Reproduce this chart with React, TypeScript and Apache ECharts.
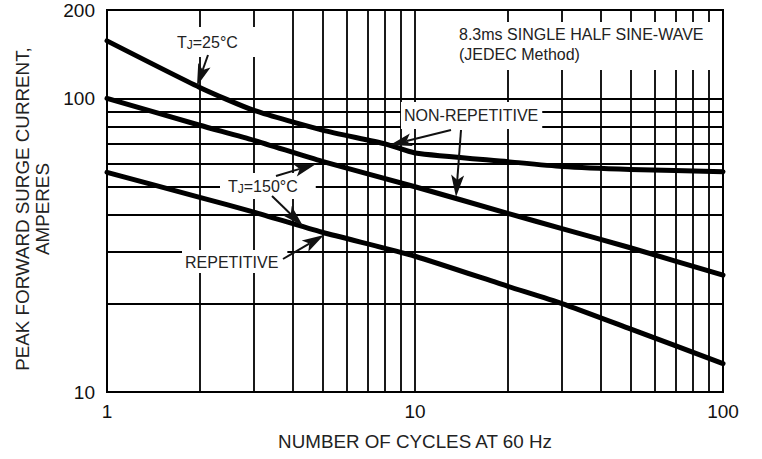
import React, { useEffect, useRef } from "react";
import * as echarts from "echarts";

// Data (log-log chart)
const cyclesTop = [1, 2, 3, 5, 8, 10, 20, 30, 50, 100];
const nonRep25 = [157, 109, 91, 78, 70, 65.2, 60.9, 58.6, 57.3, 56.3];
const cycles = [1, 2, 3, 5, 10, 20, 30, 50, 100];
const nonRep150 = [100, 81, 72, 61, 50, 40.6, 36, 31, 25];
const rep150 = [56, 46, 41, 35, 29, 22.9, 20, 16.4, 12.5];

const xMinorGrid = [2, 3, 4, 5, 6, 7, 8, 9, 20, 30, 40, 50, 60, 70, 80, 90];
const yMinorGrid = [20, 30, 40, 50, 60, 70, 80, 90];

const xTitle = "NUMBER OF CYCLES AT 60 Hz";
const yTitle = "PEAK FORWARD SURGE CURRENT,\nAMPERES";

const FONT = "'Liberation Sans', Arial, sans-serif";
const TXT = "#222";

function arrow(x1: number, y1: number, x2: number, y2: number) {
  const L = 22;
  const W = 6.5;
  const N = 5;
  const len = Math.hypot(x2 - x1, y2 - y1);
  const dx = (x2 - x1) / len;
  const dy = (y2 - y1) / len;
  const nx = -dy;
  const ny = dx;
  const bx = x2 - dx * L;
  const by = y2 - dy * L;
  const notchX = bx + dx * N;
  const notchY = by + dy * N;
  return [
    {
      type: "line",
      z: 30,
      silent: true,
      shape: { x1, y1, x2: notchX, y2: notchY },
      style: { stroke: "#111", lineWidth: 2 },
    },
    {
      type: "polygon",
      z: 30,
      silent: true,
      shape: {
        points: [
          [x2, y2],
          [bx + nx * W, by + ny * W],
          [notchX, notchY],
          [bx - nx * W, by - ny * W],
        ],
      },
      style: { fill: "#111" },
    },
  ];
}

function label(x: number, y: number, text: string, padding: number[], extra: any = {}) {
  return {
    type: "text",
    z: 20,
    silent: true,
    x,
    y,
    style: {
      text,
      fontFamily: FONT,
      fontSize: 16,
      lineHeight: 18,
      fill: TXT,
      align: "left",
      verticalAlign: "top",
      backgroundColor: "#fff",
      padding,
      ...extra,
    },
  };
}

const tjRich = {
  a: { fontFamily: FONT, fontSize: 16, lineHeight: 18, fill: TXT },
  b: { fontFamily: FONT, fontSize: 12, lineHeight: 12, fill: TXT, verticalAlign: "bottom" },
};

export default function App() {
  const ref = useRef<HTMLDivElement>(null);

  useEffect(() => {
    document.body.style.margin = "0";
    if (!ref.current) return;
    const chart = echarts.init(ref.current, undefined, { renderer: "svg" });

    const curve = (xs: number[], ys: number[], name: string) => ({
      type: "line",
      name,
      data: xs.map((x, i) => [x, ys[i]]),
      showSymbol: false,
      smooth: 0.2,
      clip: false,
      z: 5,
      silent: true,
      lineStyle: { color: "#000", width: 5, cap: "round", join: "round" },
    });

    const option: any = {
      animation: false,
      grid: {
        left: 107,
        right: 39,
        top: 10,
        bottom: 67,
        show: true,
        borderColor: "#000",
        borderWidth: 2,
        containLabel: false,
        outerBoundsMode: "none",
      },
      xAxis: {
        type: "log",
        logBase: 10,
        min: 1,
        max: 100,
        name: xTitle,
        nameLocation: "middle",
        nameGap: 40,
        nameTextStyle: { fontFamily: FONT, fontSize: 18.8, color: TXT },
        axisLine: { show: false },
        axisTick: { show: false },
        splitLine: { show: true, lineStyle: { color: "#000", width: 1.8 } },
        axisLabel: { fontFamily: FONT, fontSize: 19, color: "#111", margin: 10 },
      },
      yAxis: {
        type: "log",
        logBase: 10,
        min: 10,
        max: 200,
        name: yTitle,
        nameLocation: "middle",
        nameRotate: 90,
        nameGap: 55,
        nameTextStyle: {
          fontFamily: FONT,
          fontSize: 18.8,
          lineHeight: 20,
          color: TXT,
          align: "center",
          padding: [0, 16, 0, 0],
        },
        axisLine: { show: false },
        axisTick: { show: false },
        splitLine: { show: true, lineStyle: { color: "#000", width: 1.8 } },
        axisLabel: { fontFamily: FONT, fontSize: 19, color: "#111", margin: 12 },
      },
      series: [
        {
          type: "line",
          name: "grid",
          data: [],
          silent: true,
          z: 1,
          markLine: {
            silent: true,
            symbol: ["none", "none"],
            label: { show: false },
            lineStyle: { color: "#000", width: 1.8, type: "solid" },
            emphasis: { disabled: true },
            animation: false,
            data: [
              ...xMinorGrid.map((v) => ({ xAxis: v })),
              ...yMinorGrid.map((v) => ({ yAxis: v })),
            ],
          },
        },
        curve(cyclesTop, nonRep25, "Non-repetitive TJ=25°C"),
        curve(cycles, nonRep150, "Non-repetitive TJ=150°C"),
        curve(cycles, rep150, "Repetitive TJ=150°C"),
      ],
      graphic: [
        {
          type: "text",
          z: 20,
          silent: true,
          x: 168,
          y: 27,
          style: {
            text: "{a|T}{b|J}{a|=25°C}",
            rich: tjRich,
            align: "left",
            verticalAlign: "top",
            backgroundColor: "#fff",
            padding: [6, 18, 6, 9],
          },
        },
        label(448, 22, "8.3ms SINGLE HALF SINE-WAVE\n(JEDEC Method)", [2, 9, 6, 11], { lineHeight: 20 }),
        label(401, 102, "NON-REPETITIVE", [4, 4, 5, 3]),
        {
          type: "text",
          z: 20,
          silent: true,
          x: 220,
          y: 173,
          style: {
            text: "{a|T}{b|J}{a|=150°C}",
            rich: tjRich,
            align: "left",
            verticalAlign: "top",
            backgroundColor: "#fff",
            padding: [4, 18, 4, 8],
          },
        },
        label(182, 250, "REPETITIVE", [3, 9, 2, 3]),
        ...arrow(208, 55, 197, 86),
        ...arrow(451, 130, 390, 145),
        ...arrow(461, 130, 456, 197),
        ...arrow(276, 176, 316, 164),
        ...arrow(272, 196, 303, 226),
        ...arrow(283, 259, 324, 235),
      ],
    };

    chart.setOption(option);
    return () => chart.dispose();
  }, []);

  return <div ref={ref} style={{ width: 762, height: 459 }} />;
}
